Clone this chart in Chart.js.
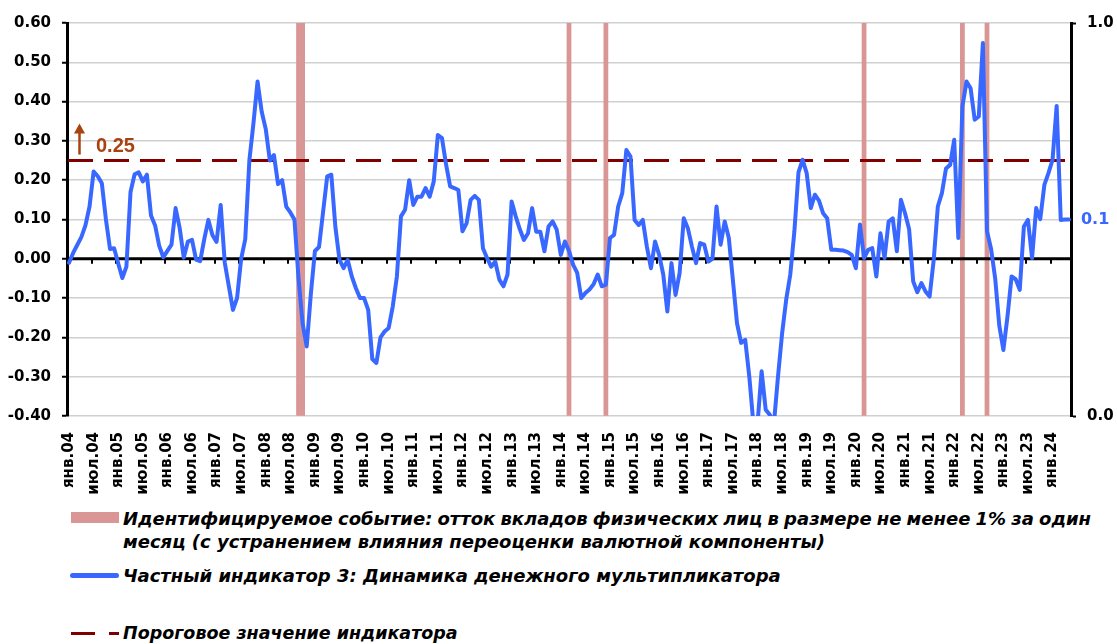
<!DOCTYPE html>
<html><head><meta charset="utf-8">
<script src="https://cdn.jsdelivr.net/npm/chart.js@4.4.1/dist/chart.umd.min.js"></script>
<style>
html,body{margin:0;padding:0;background:#fff;}
#wrap{position:relative;width:1117px;height:644px;overflow:hidden;background:#fff;}
#c{position:absolute;left:0;top:0;}
.lg{position:absolute;font-family:'DejaVu Sans';font-weight:bold;font-style:italic;font-size:18px;line-height:25px;color:#000;white-space:nowrap;}
</style></head><body>
<div id="wrap">
<canvas id="c" width="1117" height="500"></canvas>
<div style="position:absolute;left:71px;top:512px;width:48px;height:11px;background:#D99694"></div>
<div class="lg" style="left:123px;top:506px;width:968px;word-spacing:-2px;text-align:justify;text-align-last:justify;">Идентифицируемое событие: отток вкладов физических лиц в размере не менее 1% за один</div>
<div class="lg" style="left:123px;top:529px;">месяц (с устранением влияния переоценки валютной компоненты)</div>
<div style="position:absolute;left:70px;top:573px;width:49px;height:5px;border-radius:3px;background:#3868FF"></div>
<div class="lg" style="left:123px;top:563px;">Частный индикатор 3: Динамика денежного мультипликатора</div>
<div style="position:absolute;left:71px;top:632px;width:24px;height:3px;background:#800000"></div>
<div style="position:absolute;left:109px;top:632px;width:10px;height:3px;background:#800000"></div>
<div class="lg" style="left:123px;top:621px;font-size:17.5px;">Пороговое значение индикатора</div>
</div>
<script>
// ---- data ----
const MONTH_NAMES = ['янв','фев','мар','апр','май','июн','июл','авг','сен','окт','ноя','дек'];
const START_YEAR = 2004;
const LABEL_STEP = 6;
const THRESHOLD = 0.25;
const EVENT_MONTHS = [56, 57, 122, 131, 194, 218, 224]; // month indices from янв.04
const multiplierValues = [
 -0.01, 0.015, 0.035, 0.055, 0.085, 0.133, 0.222, 0.21, 0.192, 0.10,
 0.025, 0.027, -0.012, -0.049, -0.02, 0.17, 0.215, 0.22, 0.197, 0.214,
 0.11, 0.085, 0.033, 0.004, 0.02, 0.036, 0.129, 0.078, 0.003, 0.044,
 0.048, -0.002, -0.006, 0.05, 0.099, 0.06, 0.043, 0.137, -0.01, -0.07,
 -0.13, -0.10, 0.0, 0.05, 0.25, 0.345, 0.451, 0.375, 0.33, 0.25,
 0.264, 0.19, 0.20, 0.133, 0.118, 0.10, -0.05, -0.165, -0.223, -0.09,
 0.02, 0.03, 0.12, 0.21, 0.214, 0.08, -0.003, -0.024, -0.003, -0.045,
 -0.075, -0.10, -0.10, -0.13, -0.255, -0.265, -0.20, -0.185, -0.176, -0.121,
 -0.045, 0.108, 0.125, 0.20, 0.137, 0.158, 0.158, 0.18, 0.158, 0.197,
 0.315, 0.307, 0.24, 0.184, 0.18, 0.175, 0.07, 0.09, 0.15, 0.16,
 0.15, 0.027, 0.002, -0.02, -0.007, -0.053, -0.07, -0.04, 0.146, 0.108,
 0.075, 0.048, 0.065, 0.129, 0.069, 0.069, 0.019, 0.082, 0.095, 0.074,
 0.01, 0.044, 0.02, -0.015, -0.036, -0.10, -0.087, -0.078, -0.065, -0.04,
 -0.07, -0.066, 0.053, 0.061, 0.133, 0.167, 0.277, 0.26, 0.099, 0.086,
 0.099, 0.031, -0.024, 0.044, 0.01, -0.04, -0.134, -0.011, -0.092, -0.036,
 0.103, 0.078, 0.031, -0.011, 0.04, 0.036, -0.007, 0.0, 0.133, 0.036,
 0.095, 0.053, -0.055, -0.164, -0.214, -0.206, -0.30, -0.42, -0.42, -0.286,
 -0.384, -0.397, -0.42, -0.30, -0.19, -0.104, -0.04, 0.07, 0.22, 0.252,
 0.218, 0.129, 0.163, 0.148, 0.116, 0.103, 0.023, 0.023, 0.022, 0.021,
 0.017, 0.01, -0.024, 0.087, 0.002, 0.023, 0.027, -0.045, 0.065, 0.002,
 0.095, 0.103, 0.019, 0.15, 0.116, 0.075, -0.058, -0.085, -0.062, -0.083,
 -0.096, -0.003, 0.133, 0.167, 0.23, 0.239, 0.303, 0.053, 0.388, 0.451,
 0.434, 0.354, 0.362, 0.549, 0.07, 0.025, -0.05, -0.17, -0.232, -0.147,
 -0.045, -0.052, -0.079, 0.082, 0.099, 0.002, 0.129, 0.101, 0.188, 0.218,
 0.252, 0.389, 0.099, 0.10, 0.10
];
const N = multiplierValues.length;
const categories = [];
for (let k = 0; k < N; k++) {
  const yy = (START_YEAR + Math.floor(k / 12)) % 100;
  categories.push(MONTH_NAMES[k % 12] + '.' + String(yy).padStart(2, '0'));
}
const eventFlags = categories.map((_, k) => EVENT_MONTHS.includes(k) ? 1 : null);

const LINE_COLOR = '#3868FF';
const EVENT_COLOR = '#D99694';
const THR_COLOR = '#800000';
const NOTE_COLOR = '#A8420F';
const FONT = 'DejaVu Sans';

const overlay = {
  id: 'overlay',
  beforeDatasetDraw(chart, args) {
    if (args.index !== 0) return;
    const {ctx, chartArea: a, scales: {x, y}} = chart;
    ctx.save();
    const yt = y.getPixelForValue(THRESHOLD);
    ctx.strokeStyle = THR_COLOR; ctx.lineWidth = 3; ctx.setLineDash([25, 11]);
    ctx.beginPath(); ctx.moveTo(a.left + 1, yt); ctx.lineTo(a.right, yt); ctx.stroke();
    ctx.setLineDash([]);
    const y0 = y.getPixelForValue(0);
    ctx.strokeStyle = '#000'; ctx.lineWidth = 3;
    ctx.beginPath(); ctx.moveTo(a.left, y0); ctx.lineTo(a.right, y0); ctx.stroke();
    const half = (x.getPixelForValue(1) - x.getPixelForValue(0)) / 2;
    ctx.lineWidth = 2;
    for (let i = LABEL_STEP; i < N; i += LABEL_STEP) {
      const px = Math.round(x.getPixelForValue(i) - half);
      ctx.beginPath(); ctx.moveTo(px, y0); ctx.lineTo(px, y0 + 5); ctx.stroke();
    }
    ctx.restore();
  },
  afterDatasetsDraw(chart) {
    const {ctx, chartArea: a, scales: {y}} = chart;
    ctx.save();
    const yt = y.getPixelForValue(THRESHOLD);
    const ax = a.left + 12.5;
    ctx.strokeStyle = NOTE_COLOR; ctx.fillStyle = NOTE_COLOR; ctx.lineWidth = 2.5;
    ctx.beginPath(); ctx.moveTo(ax, yt - 6); ctx.lineTo(ax, yt - 29); ctx.stroke();
    ctx.beginPath(); ctx.moveTo(ax, yt - 37); ctx.lineTo(ax - 5.5, yt - 27); ctx.lineTo(ax + 5.5, yt - 27); ctx.closePath(); ctx.fill();
    ctx.font = 'bold 20px "Liberation Sans"'; ctx.textAlign = 'left'; ctx.textBaseline = 'alphabetic';
    ctx.fillText(THRESHOLD.toFixed(2), a.left + 29, yt - 9);
    const meta = chart.getDatasetMeta(0);
    const pt = meta.data[meta.data.length - 1];
    ctx.font = 'bold 16px "' + FONT + '"'; ctx.fillStyle = LINE_COLOR; ctx.textBaseline = 'middle';
    ctx.fillText(multiplierValues[N - 1].toFixed(1), pt.x + 12, pt.y);
    ctx.restore();
  }
};

const tickFont = {family: FONT, weight: 'bold', size: 15};
new Chart(document.getElementById('c'), {
  data: {
    labels: categories,
    datasets: [
      {type: 'line', label: 'Частный индикатор 3', data: multiplierValues, yAxisID: 'y',
       borderColor: LINE_COLOR, borderWidth: 4, pointRadius: 0, tension: 0,
       borderJoinStyle: 'round', borderCapStyle: 'round', order: 0,
       clip: {left: 2, right: 2, top: 5, bottom: 0}},
      {type: 'bar', label: 'Идентифицируемое событие', data: eventFlags, yAxisID: 'y2',
       backgroundColor: EVENT_COLOR, borderWidth: 0, barPercentage: 1, categoryPercentage: 1, order: 2}
    ]
  },
  options: {
    responsive: false, animation: false, devicePixelRatio: 1, events: [],
    layout: {padding: {top: 23, left: 0, right: 0, bottom: 0}},
    plugins: {legend: {display: false}, tooltip: {enabled: false}},
    scales: {
      x: {type: 'category', offset: true,
          grid: {display: false}, border: {display: false},
          ticks: {autoSkip: false, minRotation: 90, maxRotation: 90, padding: 8, font: tickFont, color: '#000',
                  callback: (v, i) => i % LABEL_STEP === 0 ? categories[i] : ''},
          afterFit: s => { s.height = 84; }},
      y: {position: 'left', min: -0.4, max: 0.6,
          ticks: {stepSize: 0.1, callback: v => v.toFixed(2), font: tickFont, color: '#000', padding: 11},
          grid: {color: '#D0D0D0', lineWidth: 1.5, tickColor: '#000', tickLength: 5, tickWidth: 2},
          border: {color: '#000', width: 3},
          afterFit: s => { s.width = 67; }},
      y2: {position: 'right', min: 0, max: 1,
          ticks: {stepSize: 1, callback: v => v.toFixed(1), font: tickFont, color: '#000', padding: 11},
          grid: {drawOnChartArea: false, tickColor: '#000', tickLength: 5, tickWidth: 2},
          border: {color: '#000', width: 3},
          afterFit: s => { s.width = 46; }}
    }
  },
  plugins: [overlay]
});
</script>
</body></html>
